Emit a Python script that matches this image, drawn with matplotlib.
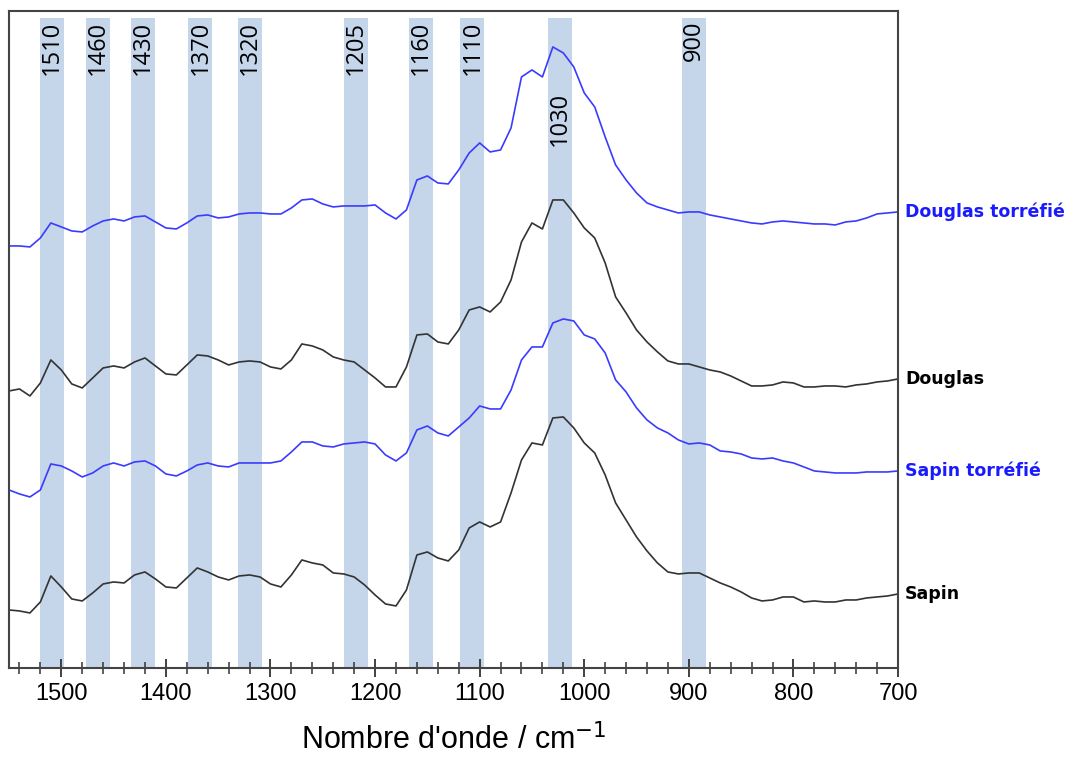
#!/usr/bin/env python3

import numpy as np
import matplotlib.pyplot as plt
from matplotlib.ticker import MultipleLocator
import matplotlib.transforms as mtransforms


# wavenumber grid, cm-1 (1550 -> 700)
wavenumber = np.arange(1550, 699, -10)

# offset spectra, arbitrary units
douglas_torrefie = [
    4.22, 4.22, 4.21, 4.30, 4.45, 4.41, 4.37, 4.36, 4.42, 4.47,
    4.49, 4.47, 4.51, 4.52, 4.46, 4.40, 4.39, 4.45, 4.52, 4.53,
    4.50, 4.51, 4.54, 4.55, 4.55, 4.54, 4.54, 4.60, 4.68, 4.69,
    4.64, 4.61, 4.62, 4.62, 4.62, 4.63, 4.55, 4.49, 4.58, 4.88,
    4.92, 4.85, 4.84, 4.98, 5.15, 5.25, 5.16, 5.18, 5.40, 5.91,
    5.98, 5.91, 6.21, 6.15, 6.01, 5.75, 5.61, 5.31, 5.03, 4.88,
    4.75, 4.65, 4.61, 4.58, 4.55, 4.56, 4.56, 4.53, 4.51, 4.49,
    4.47, 4.45, 4.44, 4.46, 4.47, 4.46, 4.45, 4.44, 4.44, 4.43,
    4.46, 4.47, 4.50, 4.54, 4.55, 4.56,
]
douglas = [
    2.77, 2.79, 2.72, 2.85, 3.08, 2.98, 2.84, 2.80, 2.90, 3.00,
    3.02, 3.00, 3.06, 3.10, 3.02, 2.94, 2.93, 3.03, 3.13, 3.12,
    3.08, 3.03, 3.06, 3.07, 3.06, 3.01, 2.99, 3.08, 3.24, 3.22,
    3.18, 3.11, 3.08, 3.06, 2.98, 2.90, 2.81, 2.81, 3.01, 3.33,
    3.34, 3.26, 3.24, 3.38, 3.58, 3.61, 3.56, 3.66, 3.88, 4.26,
    4.45, 4.39, 4.68, 4.68, 4.55, 4.40, 4.30, 4.05, 3.71, 3.55,
    3.38, 3.26, 3.16, 3.07, 3.04, 3.04, 3.01, 2.98, 2.96, 2.92,
    2.87, 2.82, 2.82, 2.83, 2.86, 2.85, 2.81, 2.81, 2.82, 2.82,
    2.81, 2.83, 2.84, 2.86, 2.87, 2.89,
]
sapin_torrefie = [
    1.78, 1.74, 1.71, 1.78, 2.04, 2.02, 1.97, 1.91, 1.95, 2.02,
    2.05, 2.02, 2.06, 2.07, 2.02, 1.94, 1.92, 1.97, 2.03, 2.05,
    2.02, 2.01, 2.05, 2.05, 2.05, 2.05, 2.07, 2.16, 2.26, 2.26,
    2.22, 2.21, 2.24, 2.25, 2.26, 2.24, 2.13, 2.07, 2.15, 2.38,
    2.42, 2.35, 2.32, 2.41, 2.50, 2.62, 2.59, 2.59, 2.78, 3.08,
    3.21, 3.21, 3.45, 3.49, 3.47, 3.33, 3.29, 3.15, 2.88, 2.76,
    2.60, 2.48, 2.40, 2.35, 2.28, 2.24, 2.25, 2.23, 2.17, 2.16,
    2.14, 2.10, 2.09, 2.10, 2.07, 2.05, 2.01, 1.97, 1.96, 1.95,
    1.95, 1.95, 1.96, 1.96, 1.96, 1.97,
]
sapin = [
    0.58, 0.57, 0.55, 0.66, 0.92, 0.81, 0.69, 0.67, 0.75, 0.84,
    0.86, 0.85, 0.93, 0.96, 0.89, 0.81, 0.80, 0.90, 1.00, 0.96,
    0.91, 0.88, 0.92, 0.93, 0.91, 0.84, 0.81, 0.93, 1.08, 1.05,
    1.03, 0.95, 0.94, 0.91, 0.83, 0.73, 0.64, 0.62, 0.78, 1.13,
    1.16, 1.10, 1.07, 1.18, 1.40, 1.46, 1.41, 1.46, 1.75, 2.08,
    2.25, 2.23, 2.50, 2.51, 2.40, 2.25, 2.15, 1.93, 1.65, 1.48,
    1.31, 1.17, 1.05, 0.96, 0.94, 0.95, 0.95, 0.90, 0.85, 0.81,
    0.76, 0.70, 0.67, 0.68, 0.71, 0.71, 0.66, 0.67, 0.66, 0.66,
    0.68, 0.68, 0.70, 0.71, 0.72, 0.74,
]

series_names = ["Douglas torréfié", "Douglas", "Sapin torréfié", "Sapin"]

# highlighted bands: label and position of the shaded strip
band_labels = ["1510", "1460", "1430", "1370", "1320",
               "1205", "1160", "1110", "1030", "900"]
band_centers = [1509, 1465, 1422, 1367, 1320, 1218, 1156, 1107, 1023, 895]

BLUE = "#3b3bff"
BLACK = "#333333"
BAND = "#c5d5ea"

fig = plt.figure(figsize=(10.86, 7.6), dpi=100)
ax = fig.add_axes([0.0083, 0.1211, 0.8186, 0.8645])

# shaded bands
for label, center in zip(band_labels, band_centers):
    ax.axvspan(center - 11.5, center + 11.5, ymin=0, ymax=0.989,
               color=BAND, lw=0, zorder=0)
    y_top = 5.76 if label == "1030" else 6.47
    ax.text(center, y_top, label, rotation=90, ha="center", va="top",
            fontsize=17, family="Open Sans", color="black", zorder=3)

# spectra
curves = [douglas_torrefie, douglas, sapin_torrefie, sapin]
colors = [BLUE, BLACK, BLUE, BLACK]
trans = mtransforms.blended_transform_factory(ax.transAxes, ax.transData)
for name, values, color in zip(series_names, curves, colors):
    ax.plot(wavenumber, values, color=color, lw=1.2, zorder=2)
    ax.text(1.008, values[-1], name, transform=trans, ha="left",
            va="center", fontsize=12.5, fontweight="bold",
            family="DejaVu Sans",
            color="#1a1aff" if color == BLUE else "black")

# axes beautify
ax.set_xlim(1550, 700)
ax.set_ylim(0, 6.57)
ax.set_yticks([])
ax.xaxis.set_major_locator(MultipleLocator(100))
ax.xaxis.set_minor_locator(MultipleLocator(20))
ax.tick_params(axis="x", which="major", direction="inout", length=13,
               width=1.3, color="#333333", labelsize=17, pad=4)
ax.tick_params(axis="x", which="minor", direction="inout", length=9,
               width=1.1, color="#333333")
for label in ax.get_xticklabels():
    label.set_family("Liberation Sans")
for spine in ax.spines.values():
    spine.set_color("#444444")
    spine.set_linewidth(1.5)

ax.set_xlabel("Nombre d'onde / cm$^{-1}$", fontsize=22,
              family="Liberation Sans", labelpad=14)

plt.savefig("out.png", dpi=100)
